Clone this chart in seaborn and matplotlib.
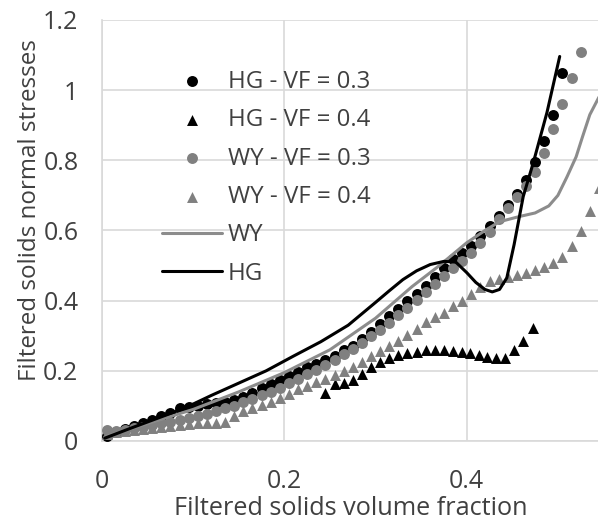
import matplotlib
matplotlib.use('Agg')
import matplotlib.pyplot as plt
import seaborn as sns

# HG - VF = 0.3 (black circles)
hg03_x = [0.005, 0.015, 0.025, 0.035, 0.045, 0.055, 0.065, 0.075, 0.085, 0.095,
          0.105, 0.115, 0.125, 0.135, 0.145, 0.155, 0.165, 0.175, 0.185, 0.195,
          0.205, 0.215, 0.225, 0.235, 0.245, 0.255, 0.265, 0.275, 0.285, 0.295,
          0.305, 0.315, 0.325, 0.335, 0.345, 0.355, 0.365, 0.375, 0.385, 0.395,
          0.405, 0.415, 0.425, 0.435, 0.445, 0.455, 0.465, 0.475, 0.485, 0.495, 0.505]
hg03_y = [0.015, 0.025, 0.035, 0.043, 0.052, 0.060, 0.070, 0.080, 0.093, 0.097,
          0.100, 0.106, 0.108, 0.112, 0.118, 0.126, 0.138, 0.150, 0.162, 0.173,
          0.185, 0.198, 0.211, 0.220, 0.232, 0.243, 0.258, 0.270, 0.292, 0.311,
          0.334, 0.355, 0.377, 0.400, 0.420, 0.443, 0.468, 0.492, 0.518, 0.537,
          0.556, 0.585, 0.612, 0.640, 0.672, 0.703, 0.745, 0.795, 0.855, 0.930, 1.050]

# HG - VF = 0.4 (black triangles)
hg04_x = [0.245, 0.255, 0.265, 0.275, 0.285, 0.295, 0.305, 0.315, 0.325, 0.335,
          0.345, 0.355, 0.365, 0.375, 0.385, 0.395, 0.404, 0.413, 0.422, 0.432,
          0.442, 0.452, 0.462, 0.473]
hg04_y = [0.138, 0.163, 0.166, 0.174, 0.190, 0.210, 0.225, 0.236, 0.244, 0.250,
          0.255, 0.258, 0.259, 0.259, 0.257, 0.254, 0.250, 0.245, 0.240, 0.236,
          0.238, 0.258, 0.285, 0.322]

# WY - VF = 0.3 (grey circles)
wy03_x = [0.005, 0.015, 0.025, 0.035, 0.045, 0.055, 0.065, 0.075, 0.085, 0.095,
          0.105, 0.115, 0.125, 0.135, 0.145, 0.155, 0.165, 0.175, 0.185, 0.195,
          0.205, 0.215, 0.225, 0.235, 0.245, 0.255, 0.265, 0.275, 0.285, 0.295,
          0.305, 0.315, 0.325, 0.335, 0.345, 0.355, 0.365, 0.375, 0.385, 0.395,
          0.405, 0.415, 0.425, 0.435, 0.445, 0.455, 0.465, 0.475, 0.485, 0.495,
          0.505, 0.515, 0.525]
wy03_y = [0.030, 0.028, 0.032, 0.036, 0.040, 0.045, 0.050, 0.055, 0.060, 0.065,
          0.072, 0.078, 0.085, 0.093, 0.101, 0.110, 0.120, 0.130, 0.141, 0.152,
          0.164, 0.177, 0.190, 0.203, 0.217, 0.232, 0.247, 0.263, 0.280, 0.298,
          0.317, 0.337, 0.358, 0.380, 0.402, 0.424, 0.447, 0.470, 0.492, 0.514,
          0.537, 0.565, 0.597, 0.633, 0.665, 0.695, 0.728, 0.767, 0.820, 0.890,
          0.960, 1.035, 1.110]

# WY - VF = 0.4 (grey triangles)
wy04_x = [0.005, 0.015, 0.025, 0.035, 0.045, 0.055, 0.065, 0.075, 0.085, 0.095,
          0.105, 0.115, 0.125, 0.135, 0.145, 0.155, 0.165, 0.175, 0.185, 0.195,
          0.205, 0.215, 0.225, 0.235, 0.245, 0.255, 0.265, 0.275, 0.285, 0.295,
          0.305, 0.315, 0.325, 0.335, 0.345, 0.355, 0.365, 0.375, 0.385, 0.395,
          0.405, 0.415, 0.425, 0.435, 0.445, 0.455, 0.465, 0.475, 0.485, 0.495,
          0.505, 0.515, 0.525, 0.535, 0.545]
wy04_y = [0.020, 0.025, 0.028, 0.032, 0.035, 0.038, 0.040, 0.043, 0.046, 0.048,
          0.050, 0.050, 0.050, 0.055, 0.070, 0.085, 0.094, 0.102, 0.112, 0.123,
          0.135, 0.147, 0.158, 0.168, 0.178, 0.188, 0.199, 0.210, 0.225, 0.242,
          0.256, 0.270, 0.284, 0.302, 0.320, 0.338, 0.354, 0.366, 0.384, 0.398,
          0.418, 0.438, 0.455, 0.462, 0.467, 0.473, 0.480, 0.488, 0.497, 0.508,
          0.524, 0.556, 0.598, 0.655, 0.720]

# WY model (grey line)
wy_line_x = [0.003, 0.05, 0.10, 0.15, 0.20, 0.25, 0.30, 0.34, 0.37, 0.40,
             0.42, 0.436, 0.458, 0.475, 0.49, 0.50, 0.51, 0.52, 0.527, 0.535, 0.545]
wy_line_y = [0.012, 0.050, 0.090, 0.140, 0.195, 0.260, 0.350, 0.440, 0.500, 0.565,
             0.600, 0.625, 0.640, 0.650, 0.670, 0.700, 0.753, 0.810, 0.867, 0.930, 0.980]

# HG model (black line)
hg_line_x = [0.003, 0.03, 0.06, 0.09, 0.12, 0.15, 0.18, 0.21, 0.24, 0.27,
             0.30, 0.315, 0.33, 0.345, 0.36, 0.375, 0.388, 0.40, 0.41, 0.42,
             0.428, 0.436, 0.444, 0.452, 0.462, 0.473, 0.488, 0.502]
hg_line_y = [0.008, 0.035, 0.064, 0.093, 0.130, 0.165, 0.200, 0.242, 0.283, 0.330,
             0.395, 0.428, 0.460, 0.485, 0.503, 0.512, 0.510, 0.480, 0.452, 0.432,
             0.425, 0.432, 0.465, 0.560, 0.697, 0.793, 0.936, 1.096]

BLACK = '#000000'
GREY = '#808080'
GREY_LINE = '#8c8c8c'
TEXT = '#404040'

sns.set_style('white')
plt.rcParams['font.family'] = ['Open Sans', 'DejaVu Sans']

fig = plt.figure(figsize=(5.98, 5.22), dpi=100)
ax = fig.add_axes([102 / 598, 1 - 441 / 522, 1 - 102 / 598, (441 - 20) / 522])

ms = 62
sns.scatterplot(x=hg03_x, y=hg03_y, ax=ax, color=BLACK, marker='o', s=ms,
                linewidth=0, label='HG - VF = 0.3', zorder=3)
sns.scatterplot(x=hg04_x, y=hg04_y, ax=ax, color=BLACK, marker='^', s=ms,
                linewidth=0, label='HG - VF = 0.4', zorder=3)
sns.scatterplot(x=wy03_x, y=wy03_y, ax=ax, color=GREY, marker='o', s=ms,
                linewidth=0, label='WY - VF = 0.3', zorder=3)
sns.scatterplot(x=wy04_x, y=wy04_y, ax=ax, color=GREY, marker='^', s=ms,
                linewidth=0, label='WY - VF = 0.4', zorder=3)
sns.lineplot(x=wy_line_x, y=wy_line_y, ax=ax, color=GREY_LINE, lw=2.2,
             sort=False, label='WY', zorder=4)
sns.lineplot(x=hg_line_x, y=hg_line_y, ax=ax, color=BLACK, lw=2.2,
             sort=False, label='HG', zorder=5)

ax.set_xlim(0, 0.544)
ax.set_ylim(0, 1.2)
ax.set_xticks([0, 0.2, 0.4])
ax.set_xticklabels(['0', '0.2', '0.4'])
ax.set_yticks([0, 0.2, 0.4, 0.6, 0.8, 1.0, 1.2])
ax.set_yticklabels(['0', '0.2', '0.4', '0.6', '0.8', '1', '1.2'])
ax.grid(True, color='#d9d9d9', lw=1.2)
ax.set_axisbelow(True)
for side in ['top', 'right']:
    ax.spines[side].set_visible(False)
for side in ['left', 'bottom']:
    ax.spines[side].set_color('#d9d9d9')
    ax.spines[side].set_linewidth(1.2)
ax.tick_params(axis='both', length=0, labelsize=18, colors=TEXT)
ax.tick_params(axis='x', pad=20)
ax.tick_params(axis='y', pad=17)
ax.set_xlabel('Filtered solids volume fraction', fontsize=18.2, color=TEXT)
ax.set_ylabel('Filtered solids normal stresses', fontsize=17.4, color=TEXT)
ax.xaxis.set_label_coords(0.502, -0.176)
ax.yaxis.set_label_coords(-0.145, 0.548)
ax.xaxis.label.set_va('baseline')
ax.yaxis.label.set_va('center')

ax.legend(loc='upper left', bbox_to_anchor=(0.121, 0.882), frameon=False,
          fontsize=17.3, handlelength=2.5, handletextpad=0.25, labelspacing=0.6,
          borderaxespad=0, borderpad=0, labelcolor=TEXT)

fig.savefig('out.png', dpi=100)
